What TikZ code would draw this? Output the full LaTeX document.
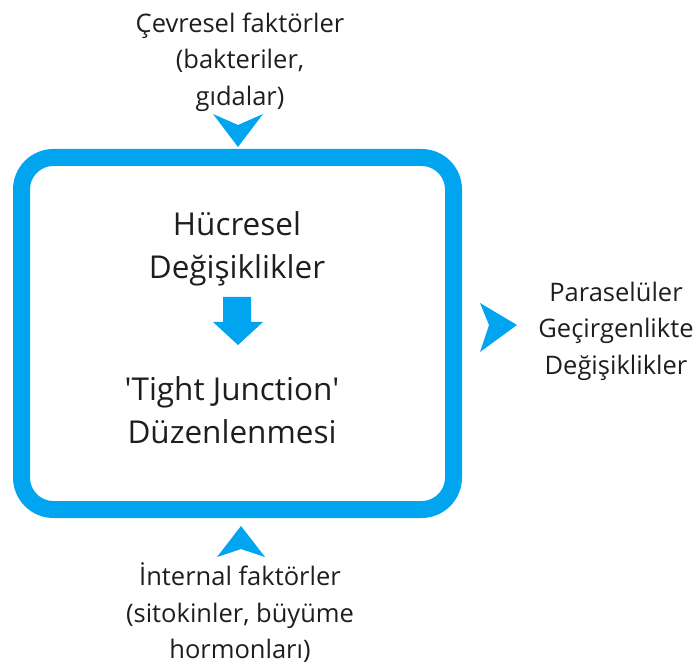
\documentclass[tikz,border=0pt]{standalone}
\usepackage{fontspec}
\setmainfont{Open Sans}
\usepackage{xcolor}
\usepackage{tikz}

\definecolor{tjblue}{RGB}{0,164,239}
\definecolor{tjtext}{RGB}{30,30,30}

\tikzset{
    outertext/.style={align=center, text=tjtext, inner sep=0pt, font=\fontsize{25.5}{36.5}\selectfont},
    innertext/.style={align=center, text=tjtext, inner sep=0pt, font=\fontsize{31.5}{43}\selectfont},
    chevron/.style={fill=tjblue}
}

\begin{document}
\begin{tikzpicture}[x=1pt, y=-1pt]
    \useasboundingbox (0, 0) rectangle (699, 668);

    % Draw the box
    \draw[tjblue, line width=17pt, rounded corners=32pt] (21.5, 157.5) rectangle (453.5, 509.5);

    % Texts inside the box
    \node[innertext] (cell) at (237, 249) {Hücresel\\Değişiklikler};
    \node[innertext] (tj) at (232, 410) {\textquotesingle Tight Junction\textquotesingle\\Düzenlenmesi};

    % Down arrow between the two texts
    \fill[chevron] (223, 297) -- (251, 297) -- (251, 322) -- (263, 322) -- (238, 345)
        -- (213, 322) -- (223, 322) -- cycle;

    % Factors outside
    \node[outertext] (env) at (240, 62) {Çevresel faktörler\\(bakteriler,\\gıdalar)};
    \node[outertext] (int) at (240, 613) {İnternal faktörler\\(sitokinler, büyüme\\hormonları)};
    \node[outertext] (perm) at (616, 331) {Paraselüler\\Geçirgenlikte\\Değişiklikler};

    % Chevrons
    \fill[chevron] (213, 114) -- (238, 125) -- (263, 114) -- (238, 147) -- cycle;
    \fill[chevron] (217, 557) -- (241, 526) -- (265, 557) -- (241, 549) -- cycle;
    \fill[chevron] (480, 303) -- (517, 325) -- (480, 352) -- (489, 325) -- cycle;

\end{tikzpicture}
\end{document}
